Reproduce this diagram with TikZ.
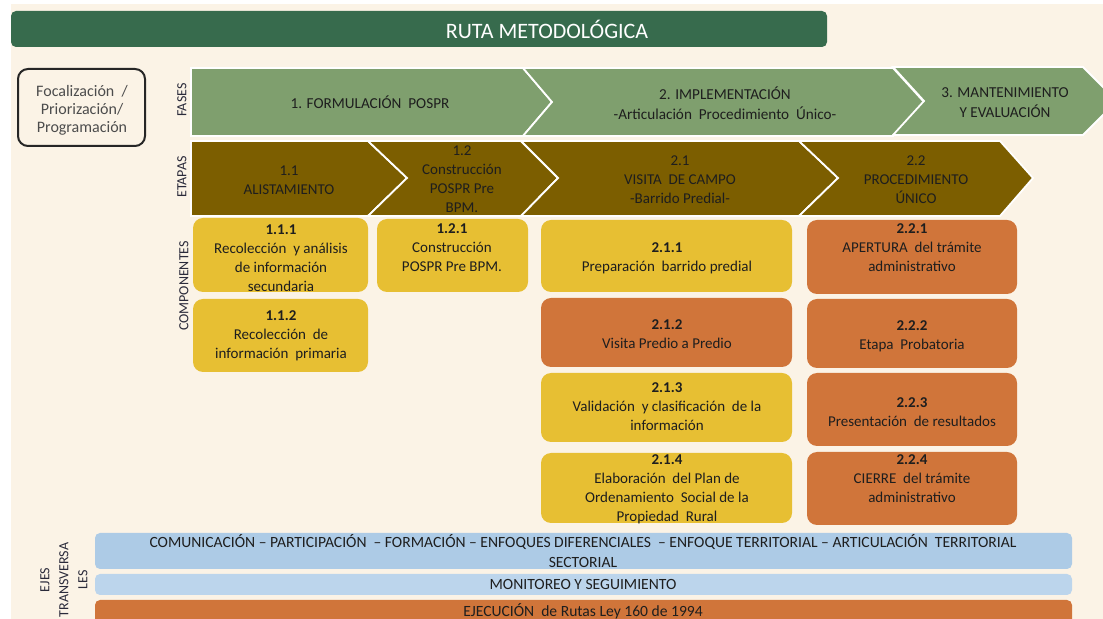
\documentclass[tikz,border=0pt]{standalone}
\usepackage{fontspec}
\setmainfont{Carlito}
\definecolor{cream}{HTML}{FBF3E6}
\definecolor{titlegreen}{HTML}{376B4D}
\definecolor{phasegreen}{HTML}{7F9F6E}
\definecolor{etapabrown}{HTML}{7C5E00}
\definecolor{compyellow}{HTML}{E7BF33}
\definecolor{comporange}{HTML}{D0753A}
\definecolor{blueA}{HTML}{ADCBE6}
\definecolor{blueB}{HTML}{BCD5EC}
\definecolor{txtc}{HTML}{1E1E1E}
\definecolor{labc}{HTML}{2A2A3A}
\begin{document}
\begin{tikzpicture}[x=0.5pt,y=-0.5pt,
  txt/.style={font=\fontsize{7.5}{9.5}\selectfont, text=txtc, align=center, inner sep=0pt},
  phasetxt/.style={font=\fontsize{7.6}{10}\selectfont, text=txtc, align=center, inner sep=0pt},
  vlab/.style={font=\fontsize{7}{10}\selectfont, text=labc, rotate=90, align=center, inner sep=0pt},
  bartxt/.style={font=\fontsize{7.8}{10}\selectfont, text=txtc, align=center, inner sep=0pt},
  chev/.style={draw=white, line width=0.9pt, line join=miter},
  compbox/.style={rounded corners=5pt},
  barbox/.style={rounded corners=2.5pt}]
\useasboundingbox (0,0) rectangle (1103,619);
\begin{scope}
\clip (0,0) rectangle (1103,619);
\fill[white] (0,0) rectangle (1103,619);
\fill[cream] (11,4) rectangle (1103,619);

% title
\fill[titlegreen, rounded corners=2.5pt] (11,11) rectangle (827,47);
\node[font=\fontsize{11}{12}\selectfont, text=white, inner sep=0pt] (title) at (547,29) {RUTA METODOLÓGICA};

% focalizacion
\node[draw=black!85, line width=1pt, rounded corners=5pt, fill=cream, minimum width=63.5pt, minimum height=38.5pt, inner sep=0pt] (foc) at (81.5,107.5) {};
\node[txt, text=black!70, font=\fontsize{8}{9}\selectfont] (foctxt) at (82,110) {Focalización \ /\\Priorización/\\Programación};

% phases
\fill[phasegreen, chev] (191,68) -- (523,68) -- (552,102) -- (523,136) -- (191,136) -- cycle;
\fill[phasegreen, chev] (523,68) -- (893,68) -- (924,102) -- (893,136) -- (523,136) -- (552,102) -- cycle;
\fill[phasegreen, chev] (893,67) -- (1083,67) -- (1117,101) -- (1083,135) -- (893,135) -- (924,101) -- cycle;
\node[phasetxt] (p1) at (370,102) {1. FORMULACIÓN \ POSPR};
\node[phasetxt] (p2) at (725,103) {2. IMPLEMENTACIÓN\\-Articulación \ Procedimiento \ Único-};
\node[phasetxt] (p3) at (1005,103) {3. MANTENIMIENTO\\Y EVALUACIÓN};

% etapas
\fill[etapabrown, chev] (191,141) -- (368,141) -- (407,178) -- (368,216) -- (191,216) -- cycle;
\fill[etapabrown, chev] (368,141) -- (521,141) -- (558,178) -- (521,216) -- (368,216) -- (407,178) -- cycle;
\fill[etapabrown, chev] (521,141) -- (799,141) -- (838,178) -- (799,216) -- (521,216) -- (558,178) -- cycle;
\fill[etapabrown, chev] (799,141) -- (1000,141) -- (1033,178) -- (1000,216) -- (799,216) -- (838,178) -- cycle;
\node[txt] (e11) at (289,180) {1.1\\ALISTAMIENTO};
\node[txt] (e12) at (462,179) {1.2\\Construcción\\POSPR Pre\\BPM.};
\node[txt] (e21) at (680,180) {2.1\\VISITA \ DE CAMPO\\-Barrido Predial-};
\node[txt] (e22) at (916,180) {2.2\\PROCEDIMIENTO\\ÚNICO};

% vertical labels
\node[vlab] (lfases) at (182,100) {FASES};
\node[vlab] (letapas) at (182,177) {ETAPAS};
\node[vlab] (lcomp) at (184,286) {COMPONENTES};
\node[vlab, font=\fontsize{7}{9.5}\selectfont] (lejes) at (64,580) {EJES\\TRANSVERSA\\LES};

% components
\fill[compyellow, compbox] (193,218) rectangle (368,292);
\fill[compyellow, compbox] (193,299) rectangle (368,372);
\fill[compyellow, compbox] (377,219) rectangle (528,292);
\fill[compyellow, compbox] (541,220) rectangle (792,292);
\fill[comporange, compbox] (541,298) rectangle (792,367);
\fill[compyellow, compbox] (541,373) rectangle (792,442);
\fill[compyellow, compbox] (541,453) rectangle (792,523);
\fill[comporange, compbox] (807,220) rectangle (1017,294);
\fill[comporange, compbox] (807,299) rectangle (1017,368);
\fill[comporange, compbox] (807,373) rectangle (1017,446);
\fill[comporange, compbox] (807,452) rectangle (1017,525);

\node[txt] (c111) at (281,258) {\textbf{1.1.1}\\Recolección \ y análisis\\de información\\secundaria};
\node[txt] (c112) at (281,336) {\textbf{1.1.2}\\Recolección \ de\\información \ primaria};
\node[txt] (c121) at (452,248) {\textbf{1.2.1}\\Construcción\\POSPR Pre BPM.};
\node[txt] (c211) at (667,258) {\textbf{2.1.1}\\Preparación \ barrido predial};
\node[txt] (c212) at (667,334) {\textbf{2.1.2}\\Visita Predio a Predio};
\node[txt] (c213) at (667,407) {\textbf{2.1.3}\\Validación \ y clasificación \ de la\\información};
\node[txt] (c214) at (667,489) {\textbf{2.1.4}\\Elaboración \ del Plan de\\Ordenamiento \ Social de la\\Propiedad \ Rural};
\node[txt] (c221) at (912,248) {\textbf{2.2.1}\\APERTURA \ del trámite\\administrativo};
\node[txt] (c222) at (912,336) {\textbf{2.2.2}\\Etapa \ Probatoria};
\node[txt] (c223) at (912,412) {\textbf{2.2.3}\\Presentación \ de resultados};
\node[txt] (c224) at (912,479) {\textbf{2.2.4}\\CIERRE \ del trámite\\administrativo};

% transversal bars
\fill[blueA, barbox] (95,533) rectangle (1072,569);
\fill[blueB, barbox] (95,574) rectangle (1072,595);
\fill[comporange, barbox] (95,600) rectangle (1072,640);
\node[bartxt] (b1) at (583,551) {COMUNICACIÓN – PARTICIPACIÓN \ – FORMACIÓN – ENFOQUES DIFERENCIALES \ – ENFOQUE TERRITORIAL – ARTICULACIÓN \ TERRITORIAL\\SECTORIAL};
\node[bartxt] (b2) at (583,584) {MONITOREO Y SEGUIMIENTO};
\node[bartxt] (b3) at (583,611) {EJECUCIÓN \ de Rutas Ley 160 de 1994};
\end{scope}
\end{tikzpicture}
\end{document}
